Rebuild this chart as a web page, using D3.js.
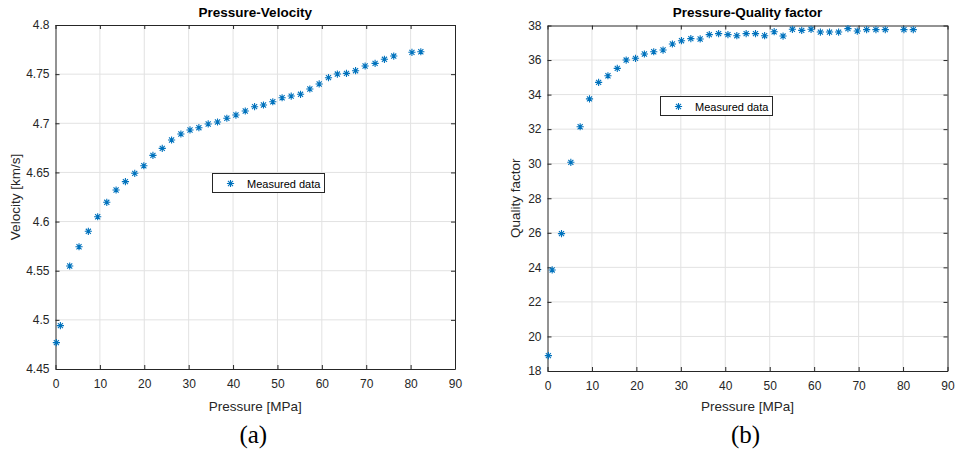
<!DOCTYPE html>
<html>
<head>
<meta charset="utf-8">
<script src="https://cdn.jsdelivr.net/npm/d3@7/dist/d3.min.js"></script>
<style>
  html, body { margin: 0; padding: 0; background: #fff; }
  svg { display: block; }
  text { font-family: "Liberation Sans", Arial, Helvetica, sans-serif; }
</style>
</head>
<body>
<svg id="chart" width="955" height="455"></svg>
<script>
// ---------------- DATA ----------------
const pressureA = [0.2, 1.1, 3.2, 5.3, 7.4, 9.5, 11.55, 13.65, 15.75, 17.85, 19.9, 21.95, 24.05, 26.15, 28.25, 30.3, 32.3, 34.4, 36.5, 38.6, 40.65, 42.75, 44.85, 46.85, 48.95, 51.05, 53.1, 55.2, 57.3, 59.4, 61.5, 63.5, 65.55, 67.6, 69.75, 72.0, 74.1, 76.2, 80.3, 82.3];
const velocity  = [4.4768, 4.4941, 4.5548, 4.5744, 4.5901, 4.6049, 4.6196, 4.6321, 4.6406, 4.6491, 4.6568, 4.6674, 4.6745, 4.683, 4.6891, 4.6932, 4.6955, 4.6993, 4.7013, 4.7051, 4.7084, 4.7125, 4.7169, 4.7186, 4.7219, 4.726, 4.7277, 4.7295, 4.7349, 4.740, 4.7464, 4.7501, 4.7508, 4.7535, 4.7583, 4.761, 4.7651, 4.7684, 4.7722, 4.7728];

const pressureB = [0.2, 1.05, 3.15, 5.25, 7.35, 9.45, 11.5, 13.6, 15.7, 17.7, 19.8, 21.8, 23.9, 26.0, 28.1, 30.15, 32.25, 34.35, 36.4, 38.5, 40.6, 42.6, 44.7, 46.8, 48.85, 51.0, 53.0, 55.1, 57.2, 59.3, 61.4, 63.45, 65.5, 67.6, 69.7, 71.8, 73.9, 76.0, 80.2, 82.3];
const quality   = [18.89, 23.85, 25.95, 30.08, 32.14, 33.75, 34.71, 35.09, 35.52, 36.0, 36.1, 36.35, 36.48, 36.58, 36.93, 37.12, 37.24, 37.22, 37.47, 37.53, 37.47, 37.41, 37.53, 37.53, 37.41, 37.64, 37.39, 37.78, 37.72, 37.78, 37.62, 37.62, 37.62, 37.82, 37.68, 37.76, 37.76, 37.76, 37.76, 37.76];

const xTicks = [0, 10, 20, 30, 40, 50, 60, 70, 80, 90];
const vTicks = [4.45, 4.5, 4.55, 4.6, 4.65, 4.7, 4.75, 4.8];
const qTicks = [18, 20, 22, 24, 26, 28, 30, 32, 34, 36, 38];

const titles  = ["Pressure-Velocity", "Pressure-Quality factor"];
const xLabel  = "Pressure [MPa]";
const yLabels = ["Velocity [km/s]", "Quality factor"];
const legendText = "Measured data";
const panelTags = ["(a)", "(b)"];

// ---------------- DRAW ----------------
const svg = d3.select("#chart");
const BLUE = "#0072BD";
const AX = "#262626";
const GRID = "#e2e2e2";

function asterisk(r) {
  const a = r * 0.7071;
  return `M${-r},0L${r},0M0,${-r}L0,${r}M${-a},${-a}L${a},${a}M${-a},${a}L${a},${-a}`;
}

function panel(cfg) {
  const g = svg.append("g");
  const x = d3.scaleLinear().domain([0, 90]).range([cfg.left, cfg.right]);
  const y = d3.scaleLinear().domain(cfg.yDomain).range([cfg.bottom, cfg.top]);
  const w = cfg.right - cfg.left, h = cfg.bottom - cfg.top;

  // grid
  g.append("g").selectAll("line.gx").data(xTicks.slice(1, -1)).join("line")
    .attr("x1", d => x(d)).attr("x2", d => x(d))
    .attr("y1", cfg.top).attr("y2", cfg.bottom)
    .attr("stroke", GRID).attr("stroke-width", 1);
  g.append("g").selectAll("line.gy").data(cfg.yTicks.slice(1, -1)).join("line")
    .attr("y1", d => y(d)).attr("y2", d => y(d))
    .attr("x1", cfg.left).attr("x2", cfg.right)
    .attr("stroke", GRID).attr("stroke-width", 1);

  // axes (ticks inward)
  const fmt = d => String(+d.toFixed(2));
  const axB = g.append("g").attr("transform", `translate(0,${cfg.bottom})`)
    .call(d3.axisBottom(x).tickValues(xTicks).tickFormat(fmt).tickSizeInner(-4).tickSizeOuter(0).tickPadding(10));
  const axT = g.append("g").attr("transform", `translate(0,${cfg.top})`)
    .call(d3.axisTop(x).tickValues(xTicks).tickFormat("").tickSizeInner(-4).tickSizeOuter(0));
  const axL = g.append("g").attr("transform", `translate(${cfg.left},0)`)
    .call(d3.axisLeft(y).tickValues(cfg.yTicks).tickFormat(fmt).tickSizeInner(-4).tickSizeOuter(0).tickPadding(6));
  const axR = g.append("g").attr("transform", `translate(${cfg.right},0)`)
    .call(d3.axisRight(y).tickValues(cfg.yTicks).tickFormat("").tickSizeInner(-4).tickSizeOuter(0));
  [axB, axT, axL, axR].forEach(a => {
    a.select(".domain").attr("stroke", AX).attr("stroke-width", 1);
    a.selectAll(".tick line").attr("stroke", AX);
    a.selectAll(".tick text").attr("fill", AX).style("font-size", "12px")
      .style("font-family", '"Liberation Sans", Arial, sans-serif');
  });

  // points
  g.append("g").selectAll("path.pt").data(cfg.xs.map((p, i) => [p, cfg.ys[i]])).join("path")
    .attr("d", asterisk(3.6))
    .attr("transform", d => `translate(${x(d[0])},${y(d[1])})`)
    .attr("stroke", BLUE).attr("stroke-width", 1.1).attr("fill", "none");

  // legend
  const lg = g.append("g");
  lg.append("rect").attr("x", cfg.legend[0]).attr("y", cfg.legend[1])
    .attr("width", 112).attr("height", 19)
    .attr("fill", "#fff").attr("stroke", AX).attr("stroke-width", 1);
  lg.append("path").attr("d", asterisk(3.6))
    .attr("transform", `translate(${cfg.legend[0] + 18},${cfg.legend[1] + 10})`)
    .attr("stroke", BLUE).attr("stroke-width", 1.1).attr("fill", "none");
  lg.append("text").attr("x", cfg.legend[0] + 34.5).attr("y", cfg.legend[1] + 14)
    .attr("fill", "#000").style("font-size", "11px").text(legendText);

  // title
  g.append("text").attr("x", (cfg.left + cfg.right) / 2).attr("y", 17)
    .attr("text-anchor", "middle").attr("fill", "#000")
    .style("font-size", "13.5px").style("font-weight", "bold").text(cfg.title);

  // x label
  g.append("text").attr("x", (cfg.left + cfg.right) / 2).attr("y", 411)
    .attr("text-anchor", "middle").attr("fill", AX)
    .style("font-size", "13.5px").text(xLabel);

  // y label
  g.append("text")
    .attr("transform", `translate(${cfg.yLabelX},${(cfg.top + cfg.bottom) / 2}) rotate(-90)`)
    .attr("text-anchor", "middle").attr("fill", AX)
    .style("font-size", "13.5px").text(cfg.yLabel);

  // panel tag
  g.append("text").attr("x", (cfg.left + cfg.right) / 2 - 2).attr("y", 443)
    .attr("text-anchor", "middle").attr("fill", "#000")
    .style("font-family", '"Liberation Serif", "Times New Roman", serif')
    .style("font-size", "25px").text(cfg.tag);
}

panel({
  left: 55.5, right: 455, top: 25, bottom: 369,
  yDomain: [4.45, 4.8], yTicks: vTicks,
  xs: pressureA, ys: velocity,
  legend: [212.5, 173.5],
  title: titles[0], yLabel: yLabels[0], yLabelX: 20, tag: panelTags[0]
});
panel({
  left: 547.5, right: 947.5, top: 25.5, bottom: 371,
  yDomain: [18, 38], yTicks: qTicks,
  xs: pressureB, ys: quality,
  legend: [660.5, 96.5],
  title: titles[1], yLabel: yLabels[1], yLabelX: 520, tag: panelTags[1]
});
</script>
</body>
</html>
